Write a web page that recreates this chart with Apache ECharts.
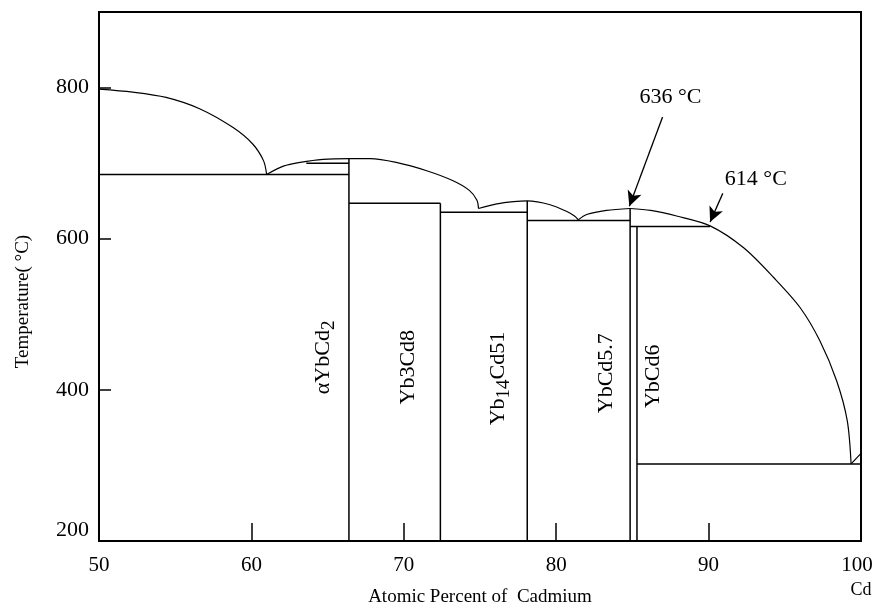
<!DOCTYPE html>
<html><head><meta charset="utf-8">
<script src="https://cdn.jsdelivr.net/npm/echarts@6/dist/echarts.min.js"></script>
<style>html,body{margin:0;padding:0;background:#fff}#c{width:873px;height:609px}</style>
</head><body><div id="c"></div>
<script>
// ---- data (atomic % Cd, temperature °C) ----
const xRange = [50, 100];
const yRange = [200, 900];
const liquidusYb = [[50,798],[52.2,794],[54.4,787],[56.6,772],[58.8,747],[60.1,725],[60.8,703],[61.0,685]];
const liquidusYbCd2 = [[61.0,685],[62.1,696],[63.2,701],[64.7,705],[66.4,706],[67.8,706],[69.5,701],[71.5,690],[73.2,677],[74.3,664],[74.8,651],[74.9,640]];
const liquidusYb14Cd51 = [[74.9,640],[76.1,646],[77.2,649],[78.1,650],[79.6,645],[80.7,636],[81.2,630],[81.45,625]];
const liquidusYbCd57 = [[81.45,625],[82.0,632],[83.3,637.5],[84.85,640]];
const liquidusCd = [[84.85,640],[86.2,637.5],[87.9,630],[90.1,617],[92.3,588],[94.3,548],[96.0,509],[97.3,465],[98.4,412],[99.1,359],[99.35,302]];
const cdSide = [[99.35,302],[100,316]];
// invariant horizontals: [xStart, xEnd, T]
const horizontals = [[50,66.4,685],[63.6,66.4,700],[66.4,72.4,647],[72.4,78.1,635],[78.1,84.85,624],[84.85,90.1,616],[85.3,100,302]];
// compound lines: [x, T top]
const verticals = [[66.4,706],[72.4,647],[78.1,650],[84.85,640],[85.3,616]];
const compoundNames = ['αYbCd2','Yb3Cd8','Yb14Cd51','YbCd5.7','YbCd6'];
const compoundLabelX = [64.7,70.3,76.2,83.3,86.35];
const compoundLabelT = [443,430,415,422,418];
const noteTexts = ['636 °C','614 °C'];
const noteTextX = [87.5,93.1];
const noteTextT = [787,679];
const noteArrowFrom = [[86.98,761],[90.93,660]];
const noteArrowTo = [[84.8,643],[90.1,622]];

const FONT = 'Liberation Serif';
const black = '#000';

function lineSeries(data, smooth, width) {
  return { type: 'line', data: data, showSymbol: false, symbol: 'none', smooth: smooth || false,
    lineStyle: { color: black, width: width || 1.3 }, silent: true, z: 3 };
}
const series = [];
[liquidusYb, liquidusYbCd2, liquidusYb14Cd51, liquidusYbCd57, liquidusCd].forEach(c => series.push(lineSeries(c, 0.3, 1.2)));
series.push(lineSeries(cdSide, false, 1.2));
horizontals.forEach(h => series.push(lineSeries([[h[0], h[2]], [h[1], h[2]]], false, 1.5)));
verticals.forEach(v => series.push(lineSeries([[v[0], yRange[0]], [v[0], v[1]]], false, 1.5)));

const richMap = {
  'αYbCd2': '{m|αYbCd}{s|2}',
  'Yb14Cd51': '{m|Yb}{s|14}{m|Cd51}'
};
series.push({
  type: 'scatter', symbolSize: 0, silent: true, itemStyle: { opacity: 1 },
  data: compoundNames.map((n, i) => ({ name: n, value: [compoundLabelX[i], compoundLabelT[i]] })),
  label: { show: true, position: 'inside', rotate: 90, color: black, opacity: 1,
    formatter: p => richMap[p.name] || ('{m|' + p.name + '}'),
    rich: {
      m: { fontFamily: FONT, fontSize: 22, color: black, lineHeight: 22, verticalAlign: 'middle' },
      s: { fontFamily: FONT, fontSize: 19, color: black, lineHeight: 30, verticalAlign: 'bottom' }
    } }
});
series.push({
  type: 'scatter', symbolSize: 0, silent: true, itemStyle: { opacity: 1 },
  data: noteTexts.map((n, i) => ({ name: n, value: [noteTextX[i], noteTextT[i]] })),
  label: { show: true, position: 'inside', formatter: '{b}', fontFamily: FONT, fontSize: 22, color: black, opacity: 1 }
});
series.push({
  type: 'line', data: [], silent: true,
  markLine: { silent: true, symbol: ['none', 'arrow'], symbolSize: [11, 15], animation: false,
    lineStyle: { color: black, width: 1.3, type: 'solid' }, label: { show: false },
    data: noteArrowFrom.map((f, i) => [{ coord: f }, { coord: noteArrowTo[i] }]) }
});

const chart = echarts.init(document.getElementById('c'));
chart.setOption({
  backgroundColor: '#fff',
  animation: false,
  grid: { left: 99, right: 12, top: 12, bottom: 68, show: true, borderColor: black, borderWidth: 2,
    containLabel: false, outerBoundsMode: 'none' },
  xAxis: {
    type: 'value', min: xRange[0], max: xRange[1], interval: 10,
    axisLine: { show: false }, splitLine: { show: false },
    axisTick: { inside: true, length: 18, lineStyle: { color: black, width: 1.5 } },
    axisLabel: { color: black, fontFamily: FONT, fontSize: 21, margin: 13, hideOverlap: false,
      formatter: v => v === 100 ? '{r|100}\n{c|Cd}' : '{n|' + v + '}',
      rich: { n: { fontFamily: FONT, fontSize: 21, color: black, lineHeight: 22 },
              r: { fontFamily: FONT, fontSize: 21, color: black, lineHeight: 22, padding: [0, 8, 0, 0] },
              c: { fontFamily: FONT, fontSize: 18, color: black, lineHeight: 28 } } },
    name: 'Atomic Percent of  Cadmium', nameLocation: 'middle', nameGap: 47, nameMoveOverlap: false,
    nameTextStyle: { color: black, fontFamily: FONT, fontSize: 19 }
  },
  yAxis: {
    type: 'value', min: yRange[0], max: yRange[1], interval: 200,
    axisLine: { show: false }, splitLine: { show: false },
    axisTick: { inside: true, length: 12, lineStyle: { color: black, width: 1.5 } },
    axisLabel: { color: black, fontFamily: FONT, fontSize: 22, margin: 10, showMaxLabel: false,
      formatter: v => v === 200 ? '{u|200}' : '{n|' + v + '}',
      rich: { n: { fontFamily: FONT, fontSize: 22, color: black },
              u: { fontFamily: FONT, fontSize: 22, color: black, padding: [0, 0, 22, 0] } } },
    name: 'Temperature( °C)', nameLocation: 'middle', nameGap: 66, nameMoveOverlap: false,
    nameTextStyle: { color: black, fontFamily: FONT, fontSize: 19, padding: [0, 50, 0, 0] }
  },
  series: series
});
</script></body></html>
